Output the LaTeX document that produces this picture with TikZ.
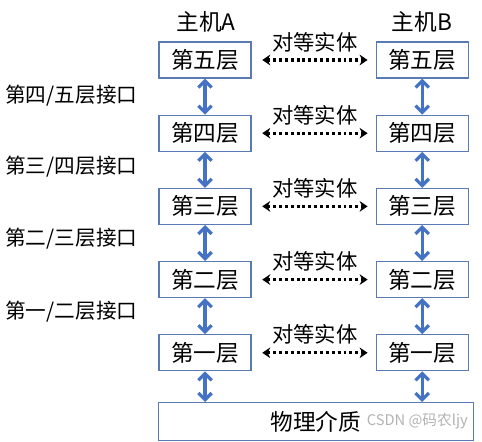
\documentclass[tikz,border=0pt]{standalone}
\usepackage{fontspec}
\setmainfont{Noto Sans CJK SC}
\usetikzlibrary{arrows.meta,positioning}
\definecolor{layerblue}{HTML}{4472C4}
\definecolor{boxline}{HTML}{5A7AB5}

\begin{document}
\begin{tikzpicture}[
    x=0.75pt,y=-0.75pt,
    node distance=27pt and 93pt,
    layer/.style={draw=boxline,line width=0.9pt,minimum height=27pt,minimum width=69pt,inner sep=0pt,font=\fontsize{17}{20}\selectfont},
    iface/.style={<->,line width=2.4pt,layerblue,>={Straight Barb[length=5pt,width=10pt]}},
    peer/.style={<->,line width=2.4pt,dash pattern=on 2.2pt off 2.2pt,>={Stealth[length=6pt,width=8pt]}},
    tag/.style={font=\fontsize{15.5}{18}\selectfont,inner sep=0pt},
    host/.style={font=\fontsize{17}{20}\selectfont,inner sep=0pt}
]
\useasboundingbox (0,0) rectangle (482,442);
\node[layer] (a5) at (205,60) {第五层};
\node[layer,below=of a5] (a4) {第四层};
\node[layer,below=of a4] (a3) {第三层};
\node[layer,below=of a3] (a2) {第二层};
\node[layer,below=of a2] (a1) {第一层};
\node[layer,right=of a5] (b5) {第五层};
\node[layer,right=of a4] (b4) {第四层};
\node[layer,right=of a3] (b3) {第三层};
\node[layer,right=of a2] (b2) {第二层};
\node[layer,right=of a1] (b1) {第一层};
\node[draw=boxline,line width=0.9pt,minimum height=28.5pt,minimum width=236pt,inner sep=0pt,anchor=north west,font=\fontsize{17}{20}\selectfont] (phy) at (158,402) {物理介质};

\node[host] (hostA) at (206,22) {主机A};
\node[host] (hostB) at (422,22) {主机B};

\node[tag,anchor=west] (i45) at (5,96) {第四/五层接口};
\node[tag,anchor=west] (i34) at (5,167) {第三/四层接口};
\node[tag,anchor=west] (i23) at (5,239) {第二/三层接口};
\node[tag,anchor=west] (i12) at (5,312) {第一/二层接口};

\foreach \n in {5,4,3,2,1}{
  \draw[peer] ([xshift=8pt]a\n.east) -- node[tag,above=5pt,font=\fontsize{16}{19}\selectfont] {对等实体} ([xshift=-6pt]b\n.west);
}
\foreach \u/\d in {5/4,4/3,3/2,2/1}{
  \draw[iface] (a\u) -- (a\d);
  \draw[iface] (b\u) -- (b\d);
}
\draw[iface] (a1.south) -- (a1.south |- phy.north);
\draw[iface] (b1.south) -- (b1.south |- phy.north);
\node[font=\fontsize{11}{13}\selectfont,text=gray!60,anchor=east,inner sep=0pt] (mark) at (468,421) {CSDN @码农ljy};
\end{tikzpicture}
\end{document}
